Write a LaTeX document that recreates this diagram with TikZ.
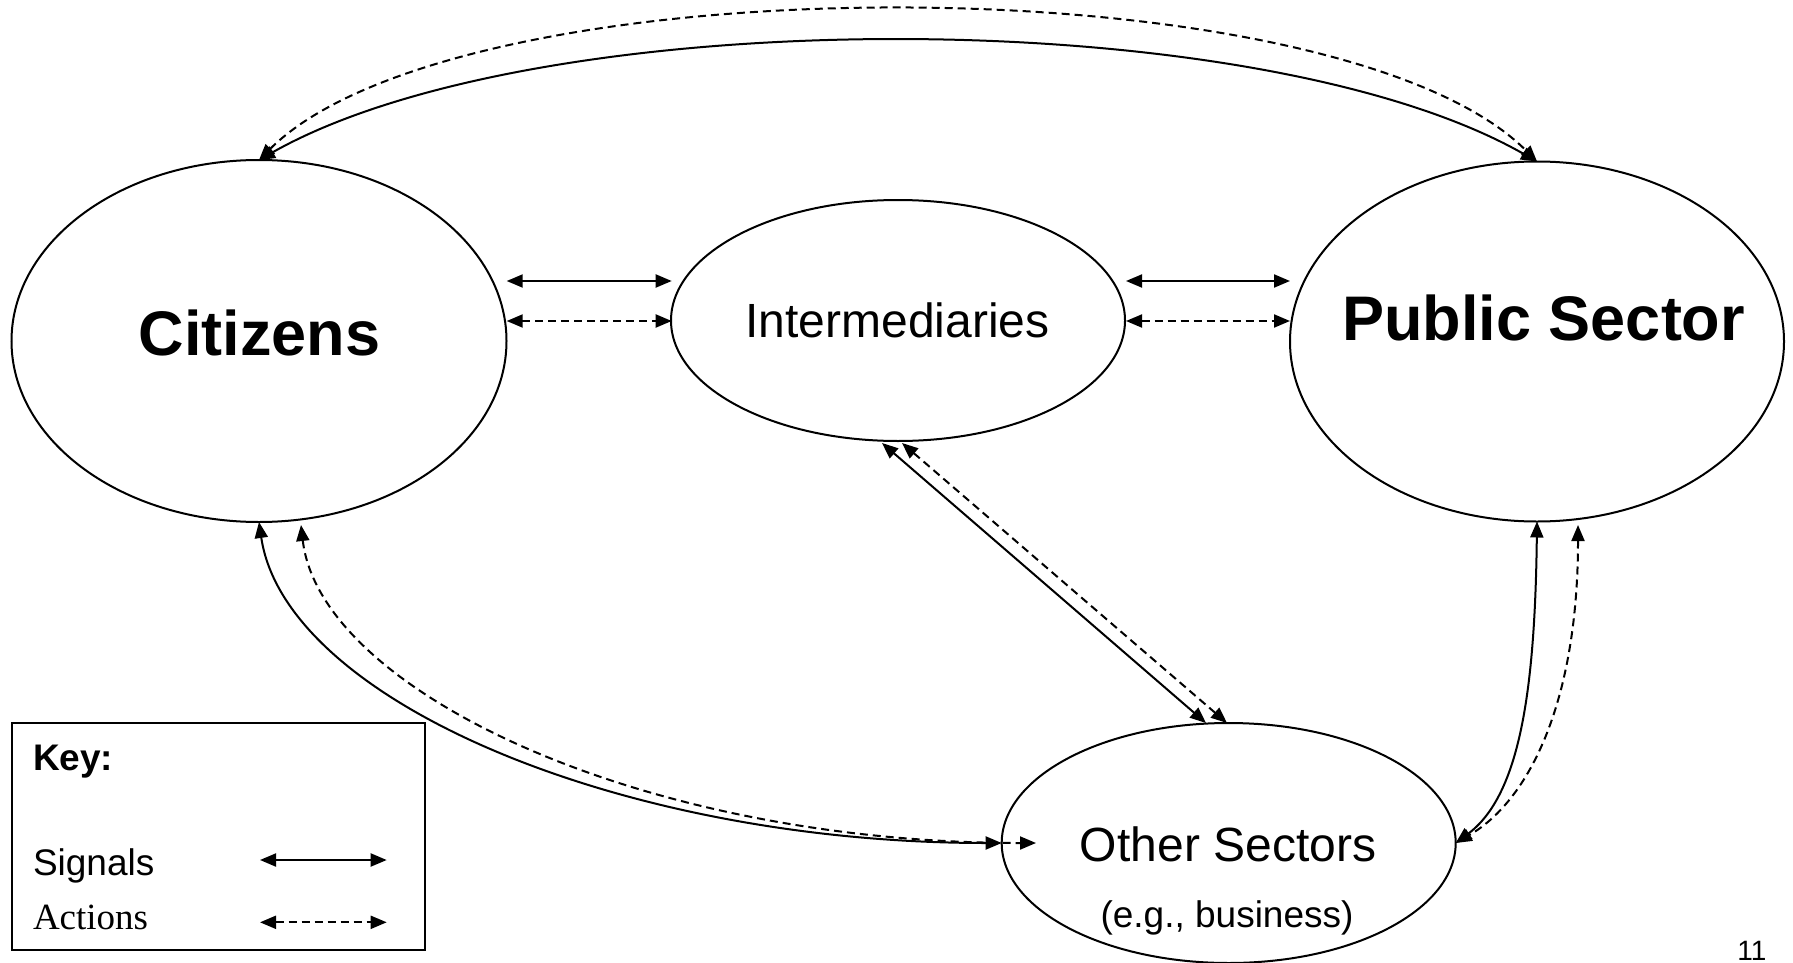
\documentclass[tikz,border=0pt]{standalone}
\usepackage{fontspec}
\setmainfont{Liberation Sans}
\newfontfamily\tmsfont{Liberation Serif}
\usetikzlibrary{arrows.meta,shapes.geometric,calc}
\begin{document}
\begin{tikzpicture}[x=1pt,y=-1pt,
  every node/.style={inner sep=0pt, outer sep=0pt},
  blob/.style={ellipse, draw, line width=2pt},
  sig/.style={line width=2pt, {Triangle[length=16pt,width=13pt]}-{Triangle[length=16pt,width=13pt]}},
  act/.style={sig, dash pattern=on 8pt off 5pt},
  big/.style={anchor=base, font=\bfseries\fontsize{63}{70}\selectfont},
  mid/.style={anchor=base, font=\fontsize{48}{56}\selectfont},
  small/.style={anchor=base west, font=\fontsize{37}{42}\selectfont}]
\useasboundingbox (0,0) rectangle (1793,963);
% ellipses
\node[blob, minimum width=495pt, minimum height=362pt] (cit) at (259,341) {};
\node[blob, minimum width=494pt, minimum height=360pt] (pub) at (1537,341.5) {};
\node[blob, minimum width=454pt, minimum height=241pt] (int) at (898,320.5) {};
\node[blob, minimum width=454pt, minimum height=240pt] (oth) at (1228.7,843) {};
% labels
\node[big] (citT) at (259.6,355) {Citizens};
\node[big] (pubT) at (1543.7,340) {Public Sector};
\node[mid] (intT) at (897.6,337) {Intermediaries};
\node[mid] (othT) at (1228,861) {Other Sectors};
\node[anchor=base, font=\fontsize{37}{42}\selectfont] (othS) at (1227,927) {(e.g., business)};
% key
\node[draw, line width=2pt, minimum width=412.5pt, minimum height=226.5pt] (key) at (218.25,836.25) {};
\node[small, font=\bfseries\fontsize{37}{42}\selectfont] (keyT) at (33,770) {Key:};
\node[small] (sigT) at (33,875) {Signals};
\node[small, font=\tmsfont\fontsize{37}{42}\selectfont] (actT) at (33,929) {Actions};
\node[anchor=base, font=\fontsize{28}{30}\selectfont] (pg) at (1752,960) {11};
% coordinates
\coordinate (ci1) at (506.7,281); \coordinate (ii1) at (671.7,281);
\coordinate (ci2) at (506.7,321); \coordinate (ii2) at (671.7,321);
\coordinate (ip1) at (1126,281); \coordinate (pi1) at (1290,281);
\coordinate (ip2) at (1126,321); \coordinate (pi2) at (1290,321);
\coordinate (io1) at (882,443); \coordinate (oi1) at (1206,723);
\coordinate (io2) at (902,443); \coordinate (oi2) at (1227,723);
\coordinate (cd) at (301,525); \coordinate (od) at (1036,843);
\coordinate (pd) at (1578,525);
\coordinate (ks1) at (260,860); \coordinate (ks2) at (386.7,860);
\coordinate (ka1) at (260,922.3); \coordinate (ka2) at (386.7,922.3);
% connectors
\draw[sig] (ci1) -- (ii1);
\draw[act] (ci2) -- (ii2);
\draw[sig] (ip1) -- (pi1);
\draw[act] (ip2) -- (pi2);
\draw[sig] (io1) -- (oi1);
\draw[act] (io2) -- (oi2);
\draw[sig] (cit.north) .. controls (540,1) and (1255,1) .. (pub.north);
\draw[act] (cit.north) .. controls (460,-40) and (1335,-40) .. (pub.north);
\draw[sig] (cit.south) .. controls (285,700) and (620,843) .. (oth.west);
\draw[act] (cd) .. controls (320,690) and (640,843) .. (od);
\draw[sig] (pub.south) .. controls (1535,690) and (1520,795) .. (oth.east);
\draw[act] (pd) .. controls (1578,700) and (1530,800) .. (oth.east);
\draw[sig] (ks1) -- (ks2);
\draw[act] (ka1) -- (ka2);
\end{tikzpicture}
\end{document}
